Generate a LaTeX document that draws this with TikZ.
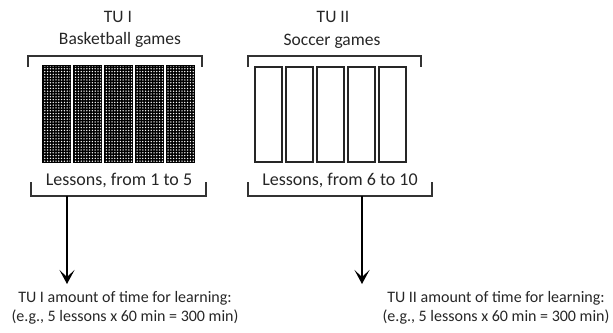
\documentclass[tikz,border=0pt]{standalone}
\usepackage{fontspec}
\setmainfont{Carlito}
\usetikzlibrary{arrows.meta,patterns.meta}
\begin{document}
\begin{tikzpicture}[x=1pt,y=-1pt,
  label/.style={inner sep=0pt, text=black!85},
  head/.style={label, font=\fontsize{17.5}{18}\selectfont},
  count/.style={label, font=\fontsize{18}{19}\selectfont},
  result/.style={label, align=center, font=\fontsize{16}{17}\selectfont},
  lessonfull/.style={draw=black, line width=1.3pt, fill=black,
    postaction={pattern={Dots[distance=2.8pt,radius=0.75pt]}, pattern color=white}},
  lessonempty/.style={draw=black!85, line width=1.3pt, fill=white},
  brace/.style={draw=black!80, line width=1.4pt},
  flow/.style={draw=black, line width=1.3pt, -{Stealth[length=14pt,width=15pt,inset=7pt]}}]
\useasboundingbox (0,0) rectangle (613,332);

% --- teaching unit I: basketball ---
\node[head] (t1) at (118,17) {TU I};
\node[head] (g1) at (120,40) {Basketball games};
\draw[brace] (28,67) -- (28,56) -- (202,56) -- (202,67);
\foreach \x in {43,74,105,136,167}
  \path[lessonfull] (\x,66) rectangle ++(27,96);
\node[count] (l1) at (119,180) {Lessons, from 1 to 5};
\draw[brace] (31,182) -- (31,196) -- (206,196) -- (206,182);
\coordinate (b1) at (67,196);

% --- teaching unit II: soccer ---
\node[head] (t2) at (333,17) {TU II};
\node[head] (g2) at (332,41) {Soccer games};
\draw[brace] (248,67) -- (248,56) -- (421,56) -- (421,67);
\foreach \x in {255,286,317,348,379}
  \path[lessonempty] (\x,67) rectangle ++(27,95);
\node[count] (l2) at (340,180) {Lessons, from 6 to 10};
\draw[brace] (248,182) -- (248,196) -- (432,196) -- (432,182);
\coordinate (b2) at (362,196);

% --- resulting learning time ---
\node[result] (r1) at (125,308)
  {TU I amount of time for learning:\\[2pt](e.g., 5 lessons x 60 min = 300 min)};
\node[result] (r2) at (496,308)
  {TU II amount of time for learning:\\[2pt](e.g., 5 lessons x 60 min = 300 min)};

\draw[flow] (b1) -- (67,284);
\draw[flow] (b2) -- (362,284);
\end{tikzpicture}
\end{document}
